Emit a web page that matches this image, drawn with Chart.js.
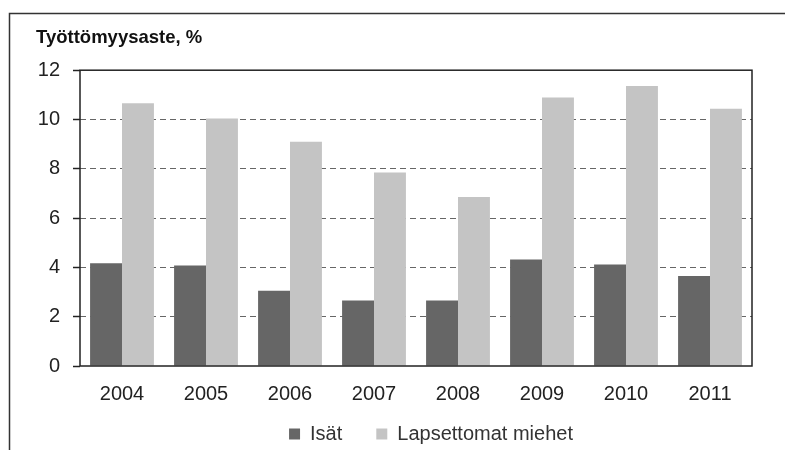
<!DOCTYPE html>
<html>
<head>
<meta charset="utf-8">
<script src="https://cdn.jsdelivr.net/npm/chart.js@4/dist/chart.umd.min.js"></script>
<style>
    html, body { margin: 0; padding: 0; background: #fff; }
    #wrap { width: 785px; height: 450px; }
</style>
</head>
<body>
<div id="wrap"><canvas id="grafico"></canvas></div>
<script>
    // dati
    var anni = ["2004", "2005", "2006", "2007", "2008", "2009", "2010", "2011"];
    var isat = [4.17, 4.08, 3.05, 2.66, 2.66, 4.32, 4.12, 3.65];
    var lapsettomat = [10.66, 10.04, 9.1, 7.85, 6.86, 10.89, 11.36, 10.44];
    var ticksY = [0, 2, 4, 6, 8, 10, 12];

    var cornice = {
        id: 'cornice',
        afterLayout: function(chart) {
            // legenda più in alto e più a destra
            if (chart.legend) {
                chart.legend.top -= 16;
                chart.legend.height += 16;
                chart.legend.left += 37;
                chart.legend.right += 37;
            }
        },
        beforeDraw: function(chart) {
            var ctx = chart.ctx;
            ctx.save();
            ctx.strokeStyle = '#333';
            ctx.lineWidth = 1.5;
            ctx.beginPath();
            ctx.moveTo(9.5, 450);
            ctx.lineTo(9.5, 13.5);
            ctx.lineTo(785, 13.5);
            ctx.stroke();
            ctx.restore();
        },
        afterDatasetsDraw: function(chart) {
            var a = chart.chartArea;
            var ctx = chart.ctx;
            ctx.save();
            ctx.strokeStyle = '#222';
            ctx.lineWidth = 1.5;
            ctx.strokeRect(a.left, a.top, a.right - a.left, a.bottom - a.top);
            ctx.restore();
        }
    };

    Chart.defaults.font.family = "'Liberation Sans', Arial, sans-serif";
    Chart.defaults.color = '#222';

    var ctx = document.getElementById('grafico');
    var chart = new Chart(ctx, {
        type: 'bar',
        data: {
            labels: anni,
            datasets: [{
                label: 'Isät',
                data: isat,
                backgroundColor: '#666666',
                categoryPercentage: 0.76,
                barPercentage: 1
            }, {
                label: 'Lapsettomat miehet',
                data: lapsettomat,
                backgroundColor: '#c4c4c4',
                categoryPercentage: 0.76,
                barPercentage: 1
            }]
        },
        plugins: [cornice],
        options: {
            responsive: true,
            maintainAspectRatio: false,
            animation: false,
            layout: {
                padding: { left: 36, right: 33, top: 10, bottom: 0 }
            },
            plugins: {
                tooltip: { enabled: false },
                title: {
                    display: true,
                    text: 'Työttömyysaste, %',
                    align: 'start',
                    color: '#111',
                    font: { size: 18.5, weight: 'bold' },
                    padding: { top: 17, bottom: 21 }
                },
                legend: {
                    position: 'bottom',
                    maxHeight: 44,
                    labels: {
                        boxWidth: 11,
                        boxHeight: 11,
                        padding: 34,
                        color: '#333',
                        font: { size: 20 }
                    }
                }
            },
            scales: {
                x: {
                    afterFit: function(scale) { scale.height = 40; },
                    grid: { display: false, drawTicks: false },
                    border: { display: false },
                    ticks: { padding: 16, font: { size: 20 }, color: '#222' }
                },
                y: {
                    min: 0,
                    max: 12,
                    afterFit: function(scale) { scale.width = 44; },
                    afterBuildTicks: function(scale) {
                        scale.ticks = ticksY.map(function(v) { return { value: v }; });
                    },
                    grid: {
                        color: function(c) {
                            return (c.tick && (c.tick.value === 0 || c.tick.value === 12)) ? 'rgba(0,0,0,0)' : '#666';
                        },
                        lineWidth: 1,
                        tickLength: 7,
                        tickColor: '#222',
                        tickBorderDash: [0, 0],
                        tickWidth: 1.5
                    },
                    border: { display: false, dash: [6, 4] },
                    ticks: { padding: 13, font: { size: 20 }, color: '#222' }
                }
            }
        }
    });
</script>
</body>
</html>
